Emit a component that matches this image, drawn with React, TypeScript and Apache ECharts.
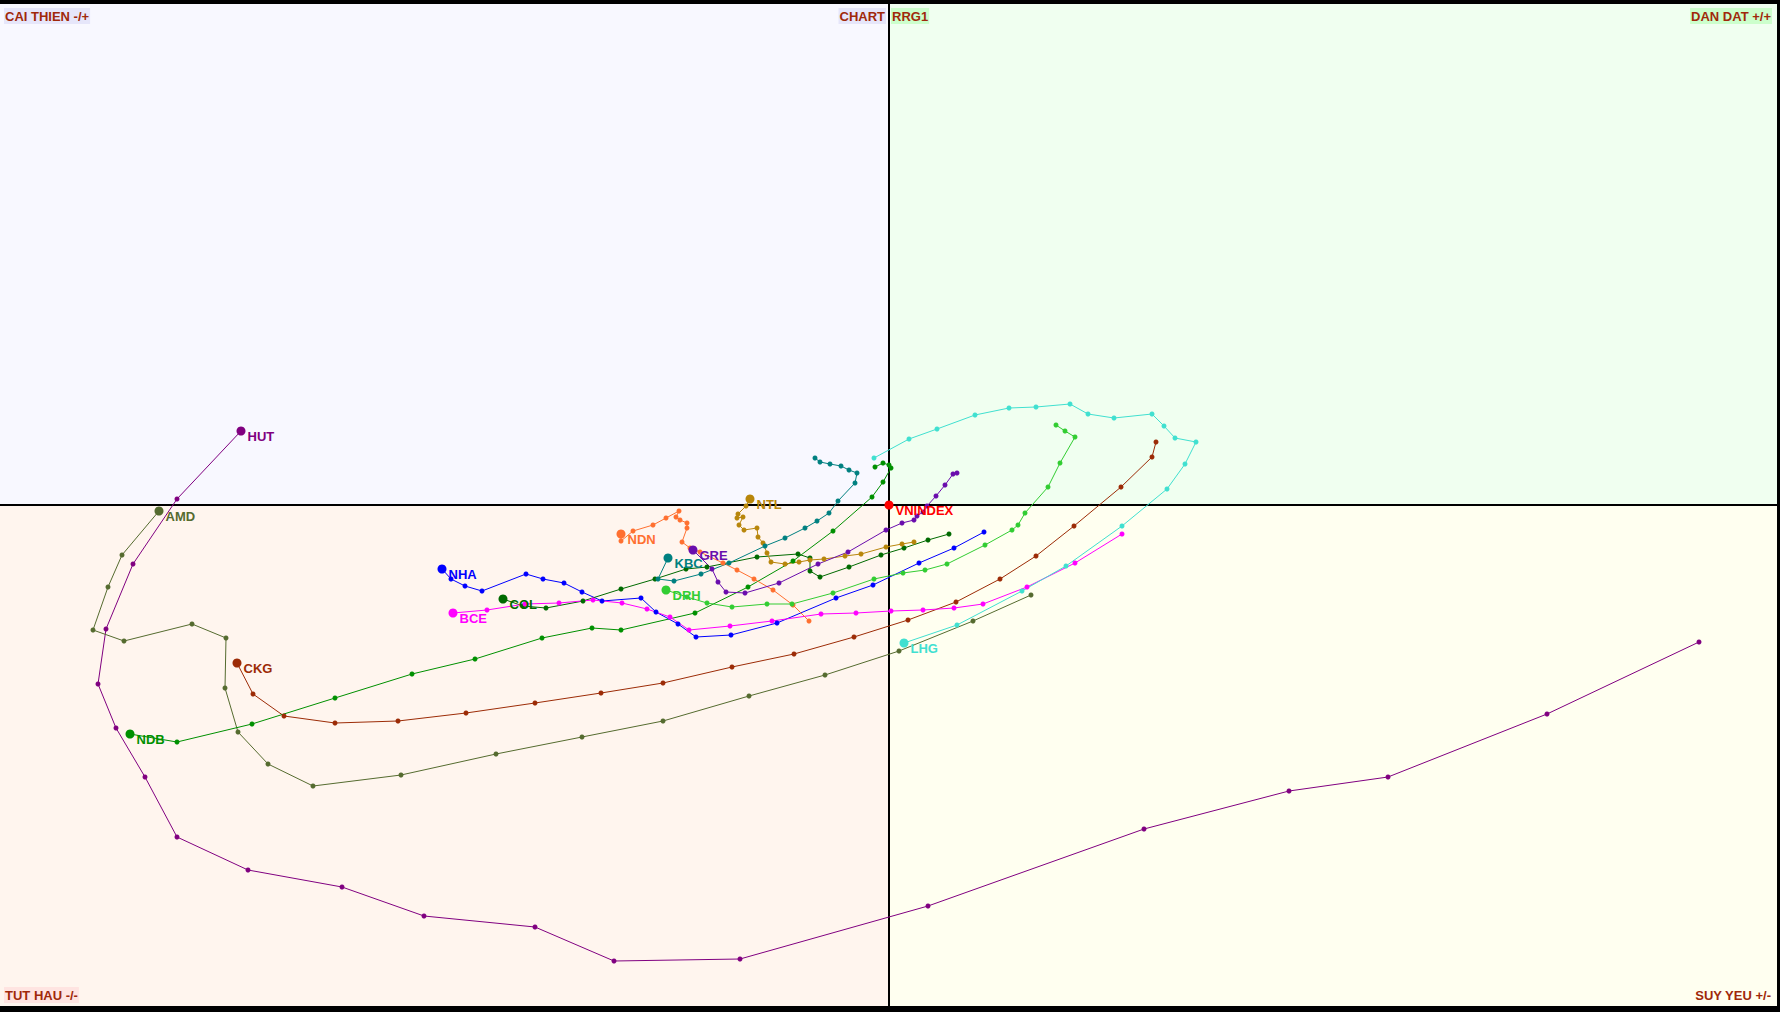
import React, { useEffect, useRef } from "react";
import * as echarts from "echarts";

// RS-Ratio (x) / RS-Momentum (y) tails, oldest point first, newest (labelled) last
const HUT = [[108.10,98.63],[106.58,97.91],[104.99,97.28],[104.00,97.14],[102.55,96.76],[100.39,95.99],[98.51,95.46],[97.25,95.44],[96.46,95.78],[95.35,95.89],[94.53,96.18],[93.59,96.35],[92.88,96.68],[92.56,97.28],[92.27,97.77],[92.09,98.21],[92.17,98.76],[92.44,99.41],[92.88,100.06],[93.52,100.74]];
const AMD = [[101.42,99.10],[100.84,98.84],[100.10,98.54],[99.36,98.30],[98.60,98.09],[97.74,97.84],[96.93,97.68],[96.07,97.51],[95.12,97.30],[94.24,97.19],[93.79,97.41],[93.49,97.73],[93.36,98.17],[93.37,98.67],[93.03,98.81],[92.35,98.64],[92.04,98.75],[92.19,99.18],[92.33,99.50],[92.70,99.94]];
const CKG = [[102.67,100.63],[102.63,100.48],[102.32,100.18],[101.85,99.79],[101.47,99.49],[101.11,99.26],[100.67,99.03],[100.19,98.85],[99.65,98.68],[99.05,98.51],[98.43,98.38],[97.74,98.22],[97.12,98.12],[96.46,98.02],[95.77,97.92],[95.09,97.84],[94.46,97.82],[93.95,97.89],[93.64,98.11],[93.48,98.42]];
const NDB = [[99.86,100.38],[99.94,100.42],[100.00,100.40],[100.02,100.37],[99.94,100.23],[99.83,100.08],[99.44,99.74],[99.04,99.44],[98.59,99.18],[98.06,98.92],[97.32,98.75],[97.03,98.77],[96.53,98.67],[95.86,98.46],[95.23,98.31],[94.46,98.07],[93.63,97.81],[92.88,97.63],[92.41,97.71]];
const COL = [[100.60,99.71],[100.39,99.65],[100.15,99.57],[99.92,99.50],[99.60,99.38],[99.31,99.28],[99.21,99.34],[99.21,99.47],[99.09,99.51],[98.68,99.48],[98.18,99.38],[97.97,99.36],[97.66,99.26],[97.32,99.16],[96.94,99.04],[96.57,98.97],[96.34,98.99],[96.14,99.06]];
const NHA = [[100.95,99.73],[100.65,99.57],[100.30,99.42],[99.84,99.20],[99.47,99.07],[98.88,98.82],[98.42,98.70],[98.07,98.68],[97.89,98.81],[97.67,98.93],[97.52,99.07],[97.13,99.04],[96.93,99.13],[96.75,99.22],[96.54,99.26],[96.37,99.31],[95.93,99.14],[95.76,99.19],[95.62,99.26],[95.53,99.36]];
const BCE = [[102.33,99.71],[101.86,99.42],[101.38,99.18],[100.94,99.01],[100.65,98.97],[100.34,98.95],[100.02,98.94],[99.67,98.92],[99.32,98.91],[98.83,98.84],[98.41,98.79],[98.00,98.75],[97.81,98.88],[97.58,98.96],[97.33,99.02],[97.04,99.05],[96.70,99.02],[96.36,99.01],[95.98,98.95],[95.64,98.92]];
const NDN = [[99.20,98.84],[99.04,99.00],[98.84,99.15],[98.65,99.26],[98.48,99.35],[98.34,99.42],[98.11,99.53],[98.01,99.57],[97.93,99.63],[97.98,99.77],[97.98,99.82],[97.91,99.85],[97.87,99.88],[97.90,99.94],[97.77,99.87],[97.64,99.80],[97.44,99.74],[97.32,99.64],[97.32,99.71]];
const NTL = [[100.25,99.63],[100.13,99.61],[99.97,99.58],[99.72,99.51],[99.56,99.49],[99.35,99.46],[99.21,99.45],[99.10,99.43],[98.96,99.41],[98.82,99.43],[98.78,99.52],[98.74,99.62],[98.69,99.68],[98.68,99.77],[98.55,99.75],[98.50,99.80],[98.54,99.88],[98.48,99.87],[98.49,99.91],[98.57,99.99],[98.61,100.06]];
const KBC = [[99.26,100.47],[99.31,100.43],[99.41,100.41],[99.52,100.39],[99.60,100.35],[99.68,100.32],[99.66,100.22],[99.49,100.04],[99.40,99.92],[99.28,99.84],[99.16,99.77],[98.96,99.67],[98.76,99.59],[98.40,99.42],[98.12,99.31],[97.85,99.24],[97.69,99.26],[97.79,99.47]];
const GRE = [[100.68,100.32],[100.64,100.31],[100.56,100.20],[100.47,100.09],[100.38,99.99],[100.34,99.93],[100.28,99.89],[100.25,99.85],[100.13,99.82],[99.97,99.75],[99.59,99.53],[99.29,99.41],[98.90,99.22],[98.56,99.12],[98.37,99.13],[98.29,99.23],[98.23,99.36],[98.04,99.55]];
const DRH = [[101.67,100.80],[101.76,100.74],[101.86,100.68],[101.71,100.42],[101.59,100.18],[101.36,99.92],[101.29,99.80],[101.23,99.75],[100.96,99.60],[100.58,99.41],[100.36,99.35],[100.14,99.32],[99.85,99.26],[99.44,99.12],[99.03,99.01],[98.78,99.01],[98.43,98.98],[98.18,99.02],[97.98,99.08],[97.77,99.15]];
const LHG = [[99.85,100.47],[100.20,100.66],[100.48,100.76],[100.86,100.90],[101.20,100.97],[101.47,100.98],[101.81,101.01],[101.99,100.91],[102.25,100.87],[102.63,100.91],[102.75,100.79],[102.86,100.67],[103.07,100.63],[102.96,100.41],[102.78,100.16],[102.33,99.79],[101.77,99.39],[101.33,99.14],[100.68,98.80],[100.15,98.62]];
const VNINDEX = [[100, 100]];

const NAMES = ["HUT", "AMD", "CKG", "NDB", "NHA", "COL", "BCE", "NDN", "NTL", "KBC", "GRE", "DRH", "LHG", "VNINDEX"];
const TAILS = [HUT, AMD, CKG, NDB, NHA, COL, BCE, NDN, NTL, KBC, GRE, DRH, LHG, VNINDEX];
const COLORS = ["#800080", "#556B2F", "#9C2B06", "#009000", "#0000FF", "#006A00", "#FF00FF", "#FF7030", "#B8860B", "#008080", "#6A0DAD", "#32CD32", "#40E0D0", "#FF0000"];

const X_MIN = 91.11;
const X_MAX = 108.88;
const Y_MIN = 94.99;
const Y_MAX = 105.01;
const CENTER = 100;

const QUADRANT_TEXTS = ["CAI THIEN -/+", "CHART", "RRG1", "DAN DAT +/+", "TUT HAU -/-", "SUY YEU +/-"];

export default function App() {
  const ref = useRef<HTMLDivElement>(null);

  useEffect(() => {
    if (!ref.current) return;
    const chart = echarts.init(ref.current, undefined, { renderer: "svg" });

    const dataSeries = TAILS.map((pts, si) => {
      const last = pts.length - 1;
      return {
        type: "line",
        name: NAMES[si],
        z: 3,
        silent: true,
        color: COLORS[si],
        lineStyle: { width: 1, color: COLORS[si] },
        itemStyle: { color: COLORS[si] },
        symbol: "circle",
        symbolSize: 5,
        showAllSymbol: true,
        data: pts.map((p, i) =>
          i === last
            ? {
                value: p,
                symbolSize: 9,
                label: {
                  show: true,
                  formatter: NAMES[si],
                  position: "right",
                  distance: 2,
                  offset: [0, 5],
                  color: COLORS[si],
                  fontSize: 13,
                  fontWeight: "bold",
                  fontFamily: "Liberation Sans, Arial, sans-serif",
                },
              }
            : { value: p }
        ),
      };
    });

    const bgSeries = {
      type: "line",
      data: [],
      silent: true,
      markArea: {
        silent: true,
        z: 1,
        data: [
          [{ coord: [X_MIN, CENTER], itemStyle: { color: "#F8F8FF" } }, { coord: [CENTER, Y_MAX] }],
          [{ coord: [CENTER, CENTER], itemStyle: { color: "#F0FFF0" } }, { coord: [X_MAX, Y_MAX] }],
          [{ coord: [X_MIN, Y_MIN], itemStyle: { color: "#FFF5EE" } }, { coord: [CENTER, CENTER] }],
          [{ coord: [CENTER, Y_MIN], itemStyle: { color: "#FFFFF0" } }, { coord: [X_MAX, CENTER] }],
        ],
      },
      markLine: {
        silent: true,
        z: 2,
        symbol: ["none", "none"],
        label: { show: false },
        lineStyle: { color: "#000000", width: 2, type: "solid" },
        data: [{ xAxis: CENTER }, { yAxis: CENTER }],
      },
    };

    const font = 'bold 13px "Liberation Sans", Arial, sans-serif';
    const txtColor = "#A0280A";
    const mk = (text: string, x: number, y: number, align: string, bg: string) => ({
      type: "text",
      x,
      y,
      z: 100,
      style: {
        text,
        fill: txtColor,
        font,
        align,
        verticalAlign: "top",
        backgroundColor: bg,
        padding: [1, 1, 1, 1],
        lineHeight: 14,
      },
    });

    chart.setOption({
      animation: false,
      backgroundColor: "#000000",
      grid: { left: 0, right: 3, top: 4, bottom: 6, containLabel: false },
      xAxis: {
        type: "value",
        min: X_MIN,
        max: X_MAX,
        axisLine: { show: false },
        axisTick: { show: false },
        axisLabel: { show: false },
        splitLine: { show: false },
      },
      yAxis: {
        type: "value",
        min: Y_MIN,
        max: Y_MAX,
        axisLine: { show: false },
        axisTick: { show: false },
        axisLabel: { show: false },
        splitLine: { show: false },
      },
      graphic: [
        mk(QUADRANT_TEXTS[0], 4, 8, "left", "#E6E6FA"),
        mk(QUADRANT_TEXTS[1], 886, 8, "right", "#E6E6FA"),
        mk(QUADRANT_TEXTS[2], 891, 8, "left", "#CCFFCC"),
        mk(QUADRANT_TEXTS[3], 1772, 8, "right", "#CCFFCC"),
        mk(QUADRANT_TEXTS[4], 4, 987, "left", "#FFE4E1"),
        mk(QUADRANT_TEXTS[5], 1772, 987, "right", "#FFFFF0"),
      ],
      series: [bgSeries, ...dataSeries],
    } as any);

    return () => chart.dispose();
  }, []);

  return (
    <div
      ref={ref}
      style={{ position: "fixed", left: 0, top: 0, width: 1780, height: 1012 }}
    />
  );
}
